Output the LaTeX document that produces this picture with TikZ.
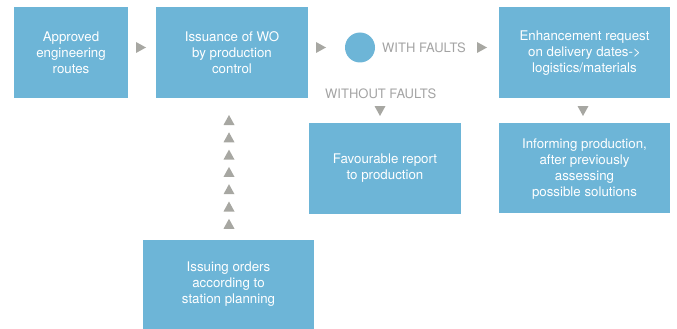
\documentclass[tikz,border=0pt]{standalone}
\usepackage{fontspec}
\setmainfont{TeX Gyre Heros}
\definecolor{boxblue}{HTML}{6DB5D7}
\definecolor{arrgray}{HTML}{A7A7A2}
\definecolor{txtgray}{HTML}{A3A3A3}
\begin{document}
\begin{tikzpicture}[x=1pt,y=-1pt,
  box/.style={fill=boxblue,draw=none,text=white,align=center,font=\fontsize{13.3}{16}\selectfont,inner sep=0pt},
  lbl/.style={text=txtgray,font=\fontsize{13}{14}\selectfont,inner sep=0pt},
  tri/.style={fill=arrgray}]
\useasboundingbox (0,0) rectangle (677,329);
\newcommand{\rtri}[2]{\fill[tri] (#1-5,#2-5.5) -- (#1+5,#2) -- (#1-5,#2+5.5) -- cycle;}
\newcommand{\dtri}[2]{\fill[tri] (#1-5.5,#2-5) -- (#1+5.5,#2-5) -- (#1,#2+5) -- cycle;}
\newcommand{\utri}[2]{\fill[tri] (#1-5.5,#2+5) -- (#1+5.5,#2+5) -- (#1,#2-5) -- cycle;}
\fill[boxblue] (14,7) rectangle (128,98);
\node[box] (n1) at (71,53) {Approved\\engineering\\routes};
\fill[boxblue] (156,7) rectangle (308,98);
\node[box] (n2) at (232,53) {Issuance of WO\\by production\\control};
\fill[boxblue] (499,7) rectangle (670,98);
\node[box] (n3) at (584.5,53) {Enhancement request\\on delivery dates->\\logistics/materials};
\fill[boxblue] (309,123) rectangle (461,214);
\node[box] (n4) at (385,168) {Favourable report\\to production};
\fill[boxblue] (499,123) rectangle (670,213);
\node[box] (n6) at (584.5,169) {Informing production,\\after previously\\assessing\\possible solutions};
\fill[boxblue] (143,240) rectangle (314,329);
\node[box] (n5) at (228.5,284) {Issuing orders\\according to\\station planning};
\fill[boxblue] (360,47.5) circle (15);
\node[lbl,anchor=west] (wf) at (382,48) {WITH FAULTS};
\node[lbl,anchor=west] (wof) at (325,94) {WITHOUT FAULTS};
\rtri{141}{47.5}
\rtri{321}{47.5}
\rtri{482}{47.5}
\dtri{380}{111}
\dtri{583}{111}
\foreach \yy in {120,137.3,154.6,171.9,189.2,206.5,223.8} {\utri{229}{\yy}}
\end{tikzpicture}
\end{document}
